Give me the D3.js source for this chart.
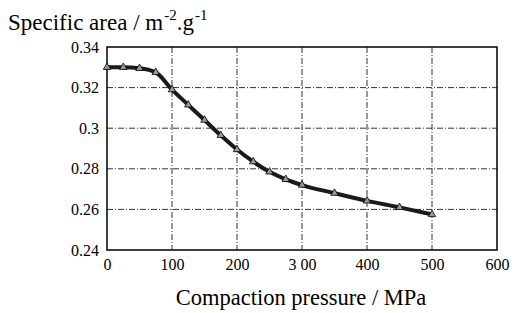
<!DOCTYPE html>
<html><head><meta charset="utf-8">
<script src="https://cdn.jsdelivr.net/npm/d3@7"></script>
<style>body{margin:0;background:#fff}svg{display:block}</style>
</head><body>
<script>
const pressure = [0, 25, 50, 75, 100, 125, 150, 175, 200, 225, 250, 275, 300, 350, 400, 450, 500];
const area = [0.330, 0.330, 0.3295, 0.3275, 0.319, 0.3115, 0.304, 0.2965, 0.2895, 0.2835, 0.2785, 0.2748, 0.272, 0.268, 0.2642, 0.261, 0.2575];
const xTicks = [0, 100, 200, 300, 400, 500, 600];
const xTickLabels = ["0", "100", "200", "3 00", "400", "500", "600"];
const yTicks = [0.24, 0.26, 0.28, 0.30, 0.32, 0.34];
const yTickLabels = ["0.24", "0.26", "0.28", "0.3", "0.32", "0.34"];

const FONT = "Liberation Serif";
const W = 524, H = 313;
const L = 107, R = 497, T = 47, B = 250;
const svg = d3.select("body").append("svg").attr("width", W).attr("height", H)
  .attr("font-family", FONT);
const x = d3.scaleLinear().domain([0, 600]).range([L, R]);
const y = d3.scaleLinear().domain([0.24, 0.34]).range([B, T]);

// grid
const g = svg.append("g").attr("stroke", "#333").attr("stroke-width", 1).attr("stroke-dasharray", "6,2,1,2");
g.selectAll(".vg").data(xTicks.slice(1, -1)).enter().append("line")
  .attr("x1", d => x(d)).attr("x2", d => x(d)).attr("y1", T).attr("y2", B);
g.selectAll(".hg").data(yTicks.slice(1, -1)).enter().append("line")
  .attr("y1", d => y(d)).attr("y2", d => y(d)).attr("x1", L).attr("x2", R);

// axes
const xAxis = d3.axisBottom(x).tickValues(xTicks).tickSize(0).tickPadding(6)
  .tickFormat((d, i) => xTickLabels[i]);
const yAxis = d3.axisLeft(y).tickValues(yTicks).tickSize(0).tickPadding(8)
  .tickFormat((d, i) => yTickLabels[i]);
const gx = svg.append("g").attr("transform", `translate(0,${B})`).call(xAxis);
const gy = svg.append("g").attr("transform", `translate(${L},0)`).call(yAxis);
[gx, gy].forEach(a => {
  a.select(".domain").remove();
  a.attr("font-family", FONT).attr("font-size", 16);
  a.selectAll("text").attr("font-family", FONT).attr("font-size", 16).attr("fill", "#000");
});
gx.selectAll("text").attr("dy", "0.85em");

// frame
svg.append("rect").attr("x", L).attr("y", T).attr("width", R - L).attr("height", B - T)
  .attr("fill", "none").attr("stroke", "#000").attr("stroke-width", 1.5);

// line
const line = d3.line().x((d, i) => x(pressure[i])).y(d => y(d)).curve(d3.curveMonotoneX);
svg.append("path").datum(area).attr("d", line).attr("fill", "none")
  .attr("stroke", "#1a1a1a").attr("stroke-width", 4);

// markers
const tri = d3.symbol().type(d3.symbolTriangle).size(24);
svg.selectAll(".m").data(area).enter().append("path")
  .attr("d", tri).attr("transform", (d, i) => `translate(${x(pressure[i])},${y(d)})`)
  .attr("fill", "#999").attr("stroke", "#000").attr("stroke-width", 0.8);

// titles
const t = svg.append("text").attr("x", 8).attr("y", 30).attr("font-family", FONT).attr("font-size", 23).attr("fill", "#000");
t.append("tspan").text("Specific area / m");
t.append("tspan").attr("font-size", 15).attr("dy", -10).attr("dx", 1).text("-2");
t.append("tspan").attr("dy", 10).text(".g");
t.append("tspan").attr("font-size", 15).attr("dy", -10).attr("dx", 1).text("-1");

svg.append("text").attr("x", 301).attr("y", 305).attr("text-anchor", "middle")
  .attr("font-family", FONT).attr("font-size", 22.5).attr("fill", "#000")
  .text("Compaction pressure / MPa");
</script>
</body></html>
